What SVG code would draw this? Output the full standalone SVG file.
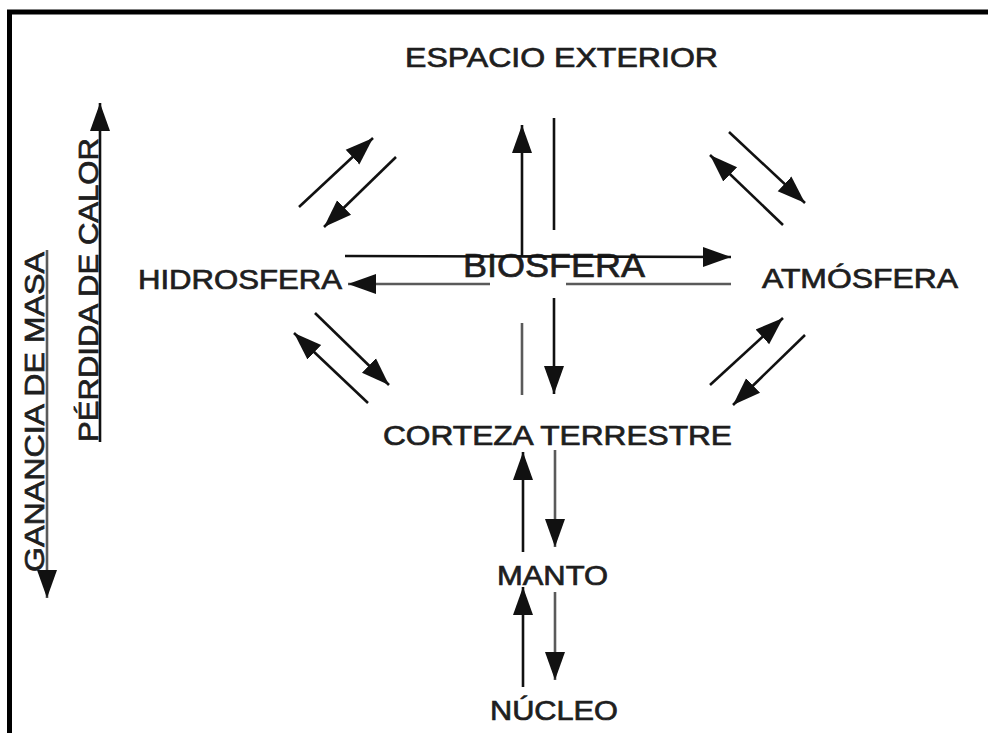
<svg xmlns="http://www.w3.org/2000/svg" width="988" height="733" viewBox="0 0 988 733">
<style>
  .lbl { font-family: "Liberation Sans", Arial, sans-serif; font-size: 27px; fill: #1e1e1e; stroke: #1e1e1e; stroke-width: 0.7; }
  .big { font-size: 34px; }
  .ln { stroke: #111; stroke-width: 2.6; fill: none; }
  .gr { stroke: #5a5a5a; stroke-width: 2.6; fill: none; }
  .arr { marker-end: url(#ah); }
</style>
<defs>
  <marker id="ah" markerUnits="userSpaceOnUse" markerWidth="30" markerHeight="22" refX="28" refY="11" orient="auto">
    <path d="M0,1 L28,11 L0,21 Z" fill="#111"/>
  </marker>
</defs>
<rect x="0" y="0" width="988" height="733" fill="#fff"/>
<rect x="9.5" y="12" width="990" height="740" fill="none" stroke="#000" stroke-width="5"/>

<g id="espacio"><text class="lbl" x="405" y="67" textLength="313" lengthAdjust="spacingAndGlyphs">ESPACIO EXTERIOR</text></g>
<g id="hidrosfera"><text class="lbl" x="138" y="289" textLength="204" lengthAdjust="spacingAndGlyphs">HIDROSFERA</text></g>
<g id="biosfera"><text class="lbl big" x="463" y="277" textLength="182" lengthAdjust="spacingAndGlyphs">BIOSFERA</text></g>
<g id="atmosfera"><text class="lbl" x="762" y="288" textLength="196" lengthAdjust="spacingAndGlyphs">ATMÓSFERA</text></g>
<g id="corteza"><text class="lbl" x="383" y="445" textLength="349" lengthAdjust="spacingAndGlyphs">CORTEZA TERRESTRE</text></g>
<g id="manto"><text class="lbl" x="497" y="585" textLength="111" lengthAdjust="spacingAndGlyphs">MANTO</text></g>
<g id="nucleo"><text class="lbl" x="490" y="720" textLength="128" lengthAdjust="spacingAndGlyphs">NÚCLEO</text></g>
<g id="perdida"><text class="lbl" font-size="25" transform="translate(98,442) rotate(-90)" x="0" y="0" textLength="304" lengthAdjust="spacingAndGlyphs">PÉRDIDA DE CALOR</text></g>
<g id="ganancia"><text class="lbl" font-size="28" transform="translate(44,572) rotate(-90)" x="0" y="0" textLength="320" lengthAdjust="spacingAndGlyphs">GANANCIA DE MASA</text></g>

<g id="connectors">
  <line class="ln arr" x1="100" y1="442" x2="100" y2="103"/>
  <line class="gr arr" x1="47" y1="250" x2="47" y2="598"/>
  <line class="ln arr" x1="522" y1="256" x2="522" y2="125"/>
  <line class="ln" x1="554" y1="118" x2="554" y2="230"/>
  <line class="ln arr" x1="554" y1="298" x2="554" y2="394"/>
  <line class="gr" x1="522" y1="323" x2="522" y2="395"/>
  <line class="ln arr" x1="345" y1="256" x2="731" y2="257"/>
  <line class="gr arr" x1="490" y1="284" x2="348" y2="284"/>
  <line class="gr" x1="566" y1="284" x2="731" y2="284"/>
  <line class="ln arr" x1="299" y1="207" x2="373" y2="138"/>
  <line class="ln arr" x1="396" y1="157" x2="324" y2="227"/>
  <line class="ln arr" x1="729" y1="132" x2="805" y2="203"/>
  <line class="ln arr" x1="783" y1="225" x2="710" y2="155"/>
  <line class="ln arr" x1="315" y1="313" x2="389" y2="385"/>
  <line class="ln arr" x1="368" y1="403" x2="294" y2="333"/>
  <line class="ln arr" x1="710" y1="385" x2="783" y2="318"/>
  <line class="ln arr" x1="805" y1="335" x2="733" y2="405"/>
  <line class="ln arr" x1="523" y1="552" x2="523" y2="452"/>
  <line class="gr arr" x1="555" y1="450" x2="555" y2="547"/>
  <line class="ln arr" x1="523" y1="687" x2="523" y2="587"/>
  <line class="gr arr" x1="555" y1="592" x2="555" y2="680"/>
</g>
</svg>
